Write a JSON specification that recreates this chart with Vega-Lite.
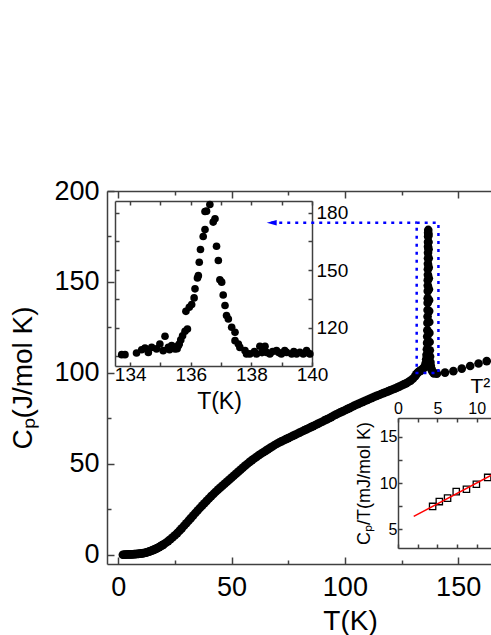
{
"$schema": "https://vega.github.io/schema/vega-lite/v6.json",
"width": 384, "height": 373,
"autosize": {"type": "none"},
"padding": {"left": 107, "top": 191, "right": 0, "bottom": 71},
"background": "white",
"config": {"view": {"stroke": null}, "font": "Liberation Sans",
  "axis": {"grid": false, "domainColor": "#404040", "tickColor": "#404040", "domainWidth": 1.5, "tickWidth": 1.5, "labelColor": "black", "titleColor": "black", "titleFontWeight": "normal", "labelFont": "Liberation Sans", "titleFont": "Liberation Sans", "labelFlush": false, "labelOverlap": false, "labelBound": false}},
"datasets": {
"main": [
{"T":2,"Cp":0.1},{"T":2.5,"Cp":0.1},{"T":3,"Cp":0.15},{"T":3.5,"Cp":0.2},{"T":4,"Cp":0.2},{"T":4.5,"Cp":0.25},{"T":5,"Cp":0.25},{"T":5.5,"Cp":0.3},{"T":6,"Cp":0.3},{"T":6.5,"Cp":0.35},{"T":7,"Cp":0.4},{"T":7.5,"Cp":0.45},{"T":8,"Cp":0.5},{"T":8.5,"Cp":0.55},{"T":9,"Cp":0.6},{"T":9.5,"Cp":0.7},{"T":10,"Cp":0.75},{"T":10.5,"Cp":0.85},{"T":11,"Cp":0.95},{"T":11.5,"Cp":1.05},{"T":12,"Cp":1.2},{"T":12.5,"Cp":1.4},{"T":13,"Cp":1.6},{"T":13.5,"Cp":1.8},{"T":14,"Cp":2.0},{"T":14.5,"Cp":2.25},{"T":15,"Cp":2.5},{"T":15.5,"Cp":2.75},{"T":16,"Cp":3.0},{"T":16.5,"Cp":3.3},{"T":17,"Cp":3.6},{"T":17.5,"Cp":3.95},{"T":18,"Cp":4.3},{"T":18.5,"Cp":4.65},{"T":19,"Cp":5.0},{"T":19.5,"Cp":5.4},{"T":20,"Cp":5.8},
{"T":21,"Cp":6.7},{"T":22,"Cp":7.6},{"T":23,"Cp":8.6},{"T":24,"Cp":9.7},{"T":25,"Cp":10.8},{"T":26,"Cp":12.0},{"T":27,"Cp":13.3},{"T":28,"Cp":14.6},{"T":29,"Cp":16.0},{"T":30,"Cp":17.4},{"T":31,"Cp":18.8},{"T":32,"Cp":20.2},{"T":33,"Cp":21.6},{"T":34,"Cp":23.0},{"T":35,"Cp":24.4},{"T":36,"Cp":25.8},{"T":37,"Cp":27.1},{"T":38,"Cp":28.4},{"T":39,"Cp":29.7},{"T":40,"Cp":31.0},
{"T":41,"Cp":32.3},{"T":42,"Cp":33.5},{"T":43,"Cp":34.7},{"T":44,"Cp":35.9},{"T":45,"Cp":37.0},{"T":46,"Cp":38.1},{"T":47,"Cp":39.2},{"T":48,"Cp":40.3},{"T":49,"Cp":41.4},{"T":50,"Cp":42.5},{"T":51,"Cp":43.6},{"T":52,"Cp":44.7},{"T":53,"Cp":45.8},{"T":54,"Cp":46.9},{"T":55,"Cp":48.0},{"T":56,"Cp":49.1},{"T":57,"Cp":50.1},{"T":58,"Cp":51.1},{"T":59,"Cp":52.1},{"T":60,"Cp":53.0},
{"T":61,"Cp":53.9},{"T":62,"Cp":54.8},{"T":63,"Cp":55.6},{"T":64,"Cp":56.4},{"T":65,"Cp":57.2},{"T":66,"Cp":58.0},{"T":67,"Cp":58.8},{"T":68,"Cp":59.6},{"T":69,"Cp":60.4},{"T":70,"Cp":61.1},{"T":71,"Cp":61.8},{"T":72,"Cp":62.4},{"T":73,"Cp":63.0},{"T":74,"Cp":63.6},{"T":75,"Cp":64.2},{"T":76,"Cp":64.8},{"T":77,"Cp":65.4},{"T":78,"Cp":66.0},{"T":79,"Cp":66.6},{"T":80,"Cp":67.2},
{"T":81,"Cp":67.8},{"T":82,"Cp":68.4},{"T":83,"Cp":69.0},{"T":84,"Cp":69.6},{"T":85,"Cp":70.2},{"T":86,"Cp":70.8},{"T":87,"Cp":71.4},{"T":88,"Cp":72.0},{"T":89,"Cp":72.6},{"T":90,"Cp":73.2},{"T":91,"Cp":73.9},{"T":92,"Cp":74.5},{"T":93,"Cp":75.1},{"T":94,"Cp":75.7},{"T":95,"Cp":76.5},{"T":96,"Cp":77.1},{"T":97,"Cp":77.7},{"T":98,"Cp":78.3},{"T":99,"Cp":78.9},{"T":100,"Cp":79.5},
{"T":101,"Cp":80.1},{"T":102,"Cp":80.7},{"T":103,"Cp":81.3},{"T":104,"Cp":81.9},{"T":105,"Cp":82.5},{"T":106,"Cp":83.0},{"T":107,"Cp":83.6},{"T":108,"Cp":84.1},{"T":109,"Cp":84.7},{"T":110,"Cp":85.2},{"T":111,"Cp":85.8},{"T":112,"Cp":86.3},{"T":113,"Cp":86.9},{"T":114,"Cp":87.4},{"T":115,"Cp":87.9},{"T":116,"Cp":88.4},{"T":117,"Cp":88.9},{"T":118,"Cp":89.4},{"T":119,"Cp":89.9},{"T":120,"Cp":90.4},
{"T":121,"Cp":90.9},{"T":122,"Cp":91.4},{"T":123,"Cp":91.9},{"T":124,"Cp":92.5},{"T":125,"Cp":93.1},{"T":126,"Cp":93.7},{"T":127,"Cp":94.3},{"T":128,"Cp":95.0},{"T":129,"Cp":95.8},{"T":130,"Cp":96.8},{"T":131,"Cp":98.2},{"T":131.5,"Cp":99.2},{"T":132,"Cp":100},
{"T":132.5,"Cp":100.5},{"T":133,"Cp":101},{"T":133.5,"Cp":101.3},{"T":134,"Cp":101.8},{"T":134.5,"Cp":102.3},{"T":135,"Cp":103},{"T":135.4,"Cp":104},{"T":135.7,"Cp":105.5},{"T":135.9,"Cp":107.5},{"T":136.05,"Cp":110},{"T":136.2,"Cp":113},{"T":136.3,"Cp":116.5},{"T":136.35,"Cp":120},{"T":136.4,"Cp":123.5},{"T":136.45,"Cp":127.5},{"T":136.5,"Cp":131},{"T":136.5,"Cp":134.6},{"T":136.55,"Cp":138.5},{"T":136.55,"Cp":141},{"T":136.6,"Cp":145},{"T":136.6,"Cp":148},{"T":136.6,"Cp":151},{"T":136.65,"Cp":154},{"T":136.65,"Cp":157},{"T":136.65,"Cp":160},{"T":136.7,"Cp":163},{"T":136.7,"Cp":166},{"T":136.7,"Cp":169.4},{"T":136.7,"Cp":172},{"T":136.75,"Cp":175},{"T":136.75,"Cp":177},{"T":136.8,"Cp":178.6},{"T":136.9,"Cp":176},{"T":136.9,"Cp":172},{"T":136.95,"Cp":168},{"T":137.0,"Cp":163},{"T":137.0,"Cp":158},{"T":137.05,"Cp":152},{"T":137.1,"Cp":146},{"T":137.15,"Cp":140},{"T":137.2,"Cp":134},{"T":137.25,"Cp":128},{"T":137.3,"Cp":122},{"T":137.4,"Cp":117},{"T":137.5,"Cp":112.5},{"T":137.6,"Cp":109},{"T":137.75,"Cp":106},{"T":137.9,"Cp":104},{"T":138.1,"Cp":102.5},{"T":138.4,"Cp":101.5},{"T":138.8,"Cp":100.5},{"T":139.3,"Cp":99.8},{"T":140.6,"Cp":99.6},
{"T":144.2,"Cp":100.2},{"T":147.9,"Cp":101.0},{"T":151.6,"Cp":102.4},{"T":155.3,"Cp":103.8},{"T":159.0,"Cp":105.2},{"T":162.6,"Cp":106.5}
],
"peak": [
{"T":133.72,"Cp":105.9},{"T":133.83,"Cp":105.9},{"T":134.21,"Cp":106.8},{"T":134.38,"Cp":108.5},{"T":134.49,"Cp":109.4},{"T":134.6,"Cp":107.1},{"T":134.71,"Cp":109.7},{"T":134.87,"Cp":108.9},{"T":134.98,"Cp":111.5},{"T":135.09,"Cp":108},{"T":135.15,"Cp":115.5},{"T":135.26,"Cp":109.7},{"T":135.3,"Cp":108.5},{"T":135.37,"Cp":110.6},{"T":135.45,"Cp":109.8},{"T":135.48,"Cp":108.9},{"T":135.55,"Cp":109},{"T":135.59,"Cp":110.6},{"T":135.62,"Cp":111.5},{"T":135.67,"Cp":113.6},{"T":135.73,"Cp":115.8},{"T":135.81,"Cp":118.1},{"T":135.89,"Cp":119.3},{"T":135.84,"Cp":128.5},{"T":135.95,"Cp":130.6},{"T":136.03,"Cp":132},{"T":136.11,"Cp":135.5},{"T":136.14,"Cp":140.2},{"T":136.22,"Cp":145.9},{"T":136.25,"Cp":147.1},{"T":136.28,"Cp":154.1},{"T":136.32,"Cp":160.7},{"T":136.41,"Cp":167.5},{"T":136.47,"Cp":171.1},{"T":136.47,"Cp":180.5},{"T":136.52,"Cp":180.7},{"T":136.63,"Cp":184.2},{"T":136.74,"Cp":175},{"T":136.8,"Cp":176.7},{"T":136.85,"Cp":162.4},{"T":136.91,"Cp":155},{"T":136.96,"Cp":144.9},{"T":137.02,"Cp":143.7},{"T":137.07,"Cp":137},{"T":137.13,"Cp":131.5},{"T":137.18,"Cp":126.3},{"T":137.24,"Cp":124.5},{"T":137.35,"Cp":120.2},{"T":137.46,"Cp":117.6},{"T":137.46,"Cp":113.2},{"T":137.57,"Cp":111.5},{"T":137.62,"Cp":109.7},{"T":137.79,"Cp":108},{"T":137.84,"Cp":106.3},{"T":137.95,"Cp":106.3},{"T":138.1,"Cp":107.5},{"T":138.17,"Cp":106.3},{"T":138.28,"Cp":110.3},{"T":138.35,"Cp":107},{"T":138.45,"Cp":110.3},{"T":138.5,"Cp":107.1},{"T":138.61,"Cp":106.3},{"T":138.7,"Cp":107.5},{"T":138.83,"Cp":108},{"T":138.9,"Cp":107},{"T":138.99,"Cp":106.3},{"T":139.1,"Cp":108},{"T":139.16,"Cp":107.1},{"T":139.33,"Cp":106.3},{"T":139.4,"Cp":107.5},{"T":139.49,"Cp":106.3},{"T":139.6,"Cp":107.2},{"T":139.71,"Cp":106.3},{"T":139.82,"Cp":108},{"T":139.85,"Cp":107},{"T":139.93,"Cp":106.3}
],
"lowT": [
{"T2":4.4,"CpT":7.48},{"T2":5.25,"CpT":8.0},{"T2":6.3,"CpT":8.37},{"T2":7.4,"CpT":9.07},{"T2":8.7,"CpT":9.33},{"T2":9.96,"CpT":9.86},{"T2":11.4,"CpT":10.6}
],
"fit": [{"T2":2.0,"CpT":6.4},{"T2":12.0,"CpT":10.9}],
"box": [{"T1":131.7,"T2":141.3,"C1":100,"C2":182.6}],
"arrow": [{"Ta":67.5,"Tb":131.7,"C":182.6}],
"head": [{"T":67.7,"C":182.6}]
},
"resolve": {"scale": {"x": "independent", "y": "independent"}},
"layer": [
{"data": {"name": "main"},
 "mark": {"type": "circle", "color": "black", "size": 75, "opacity": 1},
 "encoding": {
  "x": {"field": "T", "type": "quantitative", "scale": {"domain": [-5, 164.5], "range": [0, 384], "nice": false, "zero": false},
        "axis": {"orient": "bottom", "values": [0,25,50,75,100,125,150], "labelExpr": "datum.value % 50 === 0 ? datum.label : ''", "tickSize": {"condition": {"test": "datum.value % 50 === 0", "value": -7}, "value": -4}, "labelPadding": 17, "labelFontSize": 27, "title": "T(K)", "titleFontSize": 28, "titlePadding": 4, "titleX": 243}},
  "y": {"field": "Cp", "type": "quantitative", "scale": {"domain": [-5, 200], "range": [373, 0], "nice": false, "zero": false},
        "axis": {"orient": "left", "values": [0,25,50,75,100,125,150,175,200], "labelExpr": "datum.value % 50 === 0 ? datum.label : ''", "tickSize": {"condition": {"test": "datum.value % 50 === 0", "value": -7}, "value": -4}, "labelPadding": 15, "labelFontSize": 27, "title": "Cₚ(J/mol K)", "titleFontSize": 28, "titlePadding": 16}}
 }},
{"data": {"name": "main"},
 "mark": {"type": "circle", "opacity": 0},
 "encoding": {
  "x": {"field": "T", "type": "quantitative", "scale": {"domain": [-5, 164.5], "range": [0, 384], "nice": false, "zero": false},
        "axis": {"orient": "top", "values": [0,25,50,75,100,125,150], "labels": false, "tickSize": {"condition": {"test": "datum.value % 50 === 0", "value": -7}, "value": -4}, "title": null}},
  "y": {"field": "Cp", "type": "quantitative", "scale": {"domain": [-5, 200], "range": [373, 0], "nice": false, "zero": false}, "axis": null}
 }},
{"data": {"name": "peak"},
 "mark": {"type": "circle", "color": "black", "size": 58, "opacity": 1},
 "encoding": {
  "x": {"field": "T", "type": "quantitative", "scale": {"domain": [133.5, 140], "range": [8, 205], "nice": false, "zero": false},
        "axis": {"orient": "bottom", "offset": -198, "values": [134,135,136,137,138,139,140], "labelExpr": "datum.value % 2 === 0 ? datum.label : ''", "tickSize": -4, "labelPadding": 3, "labelFontSize": 19, "title": "T(K)", "titleFontSize": 23, "titlePadding": 6, "titleX": 112}},
  "y": {"field": "Cp", "type": "quantitative", "scale": {"domain": [100, 186], "range": [175, 10], "nice": false, "zero": false},
        "axis": {"orient": "right", "offset": -179, "values": [105,120,135,150,165,180], "labelExpr": "datum.value % 30 === 0 ? datum.label : ''", "tickSize": -4, "labelPadding": 8, "labelFontSize": 19, "title": null}}
 }},
{"data": {"name": "peak"},
 "mark": {"type": "circle", "opacity": 0},
 "encoding": {
  "x": {"field": "T", "type": "quantitative", "scale": {"domain": [133.5, 140], "range": [8, 205], "nice": false, "zero": false},
        "axis": {"orient": "top", "offset": -10, "values": [134,135,136,137,138,139,140], "labels": false, "tickSize": -4, "title": null}},
  "y": {"field": "Cp", "type": "quantitative", "scale": {"domain": [100, 186], "range": [175, 10], "nice": false, "zero": false},
        "axis": {"orient": "left", "offset": -8, "values": [105,120,135,150,165,180], "labels": false, "tickSize": -4, "title": null}}
 }},
{"data": {"name": "lowT"},
 "mark": {"type": "point", "shape": "square", "filled": false, "color": "black", "size": 40, "strokeWidth": 1.3, "opacity": 1},
 "encoding": {
  "x": {"field": "T2", "type": "quantitative", "scale": {"domain": [0, 11.82], "range": [291, 384], "nice": false, "zero": false},
        "axis": {"orient": "top", "offset": -227, "values": [0,2.5,5,7.5,10], "labelExpr": "datum.value % 5 === 0 ? datum.label : ''", "tickSize": -4, "labelPadding": 6, "labelFontSize": 16, "title": "T²", "titleFontSize": 21, "titleAlign": "left", "titleX": 363, "titlePadding": 4}},
  "y": {"field": "CpT", "type": "quantitative", "scale": {"domain": [3, 17], "range": [357, 227], "nice": false, "zero": false},
        "axis": {"orient": "left", "offset": -291, "values": [5,7.5,10,12.5,15], "labelExpr": "datum.value % 5 === 0 ? datum.label : ''", "tickSize": -4, "labelPadding": 5, "labelFontSize": 16, "title": "Cₚ/T(mJ/mol K)", "titleFontSize": 18, "titlePadding": 6}}
 }},
{"data": {"name": "fit"},
 "mark": {"type": "line", "color": "#ff0000", "strokeWidth": 1.5},
 "encoding": {
  "x": {"field": "T2", "type": "quantitative", "scale": {"domain": [0, 11.82], "range": [291, 384], "nice": false, "zero": false}, "axis": null},
  "y": {"field": "CpT", "type": "quantitative", "scale": {"domain": [3, 17], "range": [357, 227], "nice": false, "zero": false}, "axis": null}
 }},
{"data": {"name": "lowT"},
 "mark": {"type": "point", "opacity": 0},
 "encoding": {
  "x": {"field": "T2", "type": "quantitative", "scale": {"domain": [0, 11.82], "range": [291, 384], "nice": false, "zero": false},
        "axis": {"orient": "bottom", "offset": -16, "values": [0,2.5,5,7.5,10], "labels": false, "tickSize": -4, "title": null}},
  "y": {"field": "CpT", "type": "quantitative", "scale": {"domain": [3, 17], "range": [357, 227], "nice": false, "zero": false}, "axis": null}
 }},
{"data": {"name": "box"},
 "mark": {"type": "rect", "filled": false, "color": "#0000ff", "strokeWidth": 2.5, "strokeDash": [3, 5]},
 "encoding": {
  "x": {"field": "T1", "type": "quantitative", "scale": {"domain": [-5, 164.5], "range": [0, 384], "nice": false, "zero": false}, "axis": null},
  "x2": {"field": "T2"},
  "y": {"field": "C1", "type": "quantitative", "scale": {"domain": [-5, 200], "range": [373, 0], "nice": false, "zero": false}, "axis": null},
  "y2": {"field": "C2"}
 }},
{"data": {"name": "arrow"},
 "mark": {"type": "rule", "color": "#0000ff", "strokeWidth": 2.5, "strokeDash": [3, 5]},
 "encoding": {
  "x": {"field": "Ta", "type": "quantitative", "scale": {"domain": [-5, 164.5], "range": [0, 384], "nice": false, "zero": false}, "axis": null},
  "x2": {"field": "Tb"},
  "y": {"field": "C", "type": "quantitative", "scale": {"domain": [-5, 200], "range": [373, 0], "nice": false, "zero": false}, "axis": null}
 }},
{"data": {"name": "head"},
 "mark": {"type": "point", "shape": "M1,-0.55L-1,0L1,0.55Z", "filled": true, "color": "#0000ff", "size": 100, "opacity": 1},
 "encoding": {
  "x": {"field": "T", "type": "quantitative", "scale": {"domain": [-5, 164.5], "range": [0, 384], "nice": false, "zero": false}, "axis": null},
  "y": {"field": "C", "type": "quantitative", "scale": {"domain": [-5, 200], "range": [373, 0], "nice": false, "zero": false}, "axis": null}
 }}
]
}
